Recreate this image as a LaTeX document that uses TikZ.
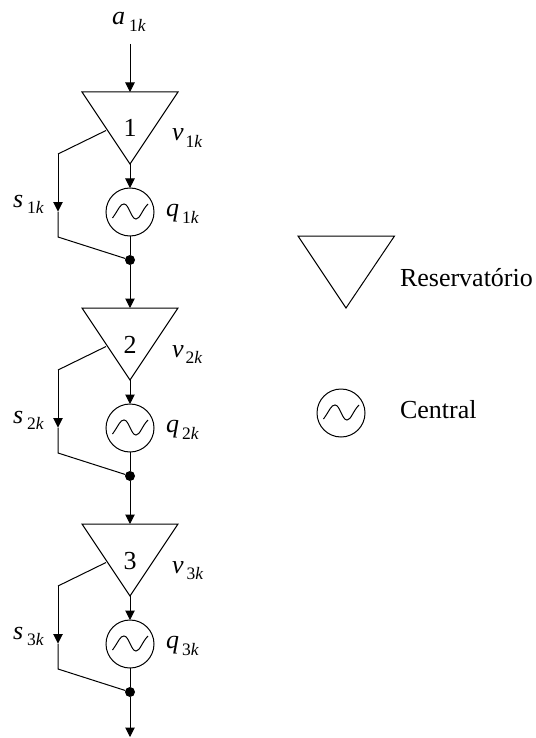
\documentclass[tikz,border=0pt]{standalone}
\usepackage{fontspec}
\setmainfont{Liberation Serif}
\usetikzlibrary{arrows.meta,calc}
\tikzset{
  x=1pt,y=-1pt,
  wire/.style={line width=1pt,black},
  flow/.style={wire,-{Triangle[length=9.5pt,width=9.5pt]}},
  gencircle/.style={circle,draw,line width=1pt,minimum size=48pt,inner sep=0pt,outer sep=0pt},
  joint/.style={circle,fill=black,minimum size=10pt,inner sep=0pt,outer sep=0pt},
  lbl/.style={anchor=base west,inner sep=0pt,outer sep=0pt,font=\fontsize{26}{26}\selectfont},
  num/.style={anchor=base,inner sep=0pt,outer sep=0pt,font=\fontsize{26}{26}\selectfont},
}
\newcommand{\symb}[3]{\textit{#1}\hspace{#3}\raisebox{-6.5pt}{\fontsize{17.5}{17.5}\selectfont #2\textit{k}}}
\newcommand{\wave}[1]{\draw[line width=1pt] ($(#1)+(-17.5,6)$) .. controls ($(#1)+(-11,-3)$) and ($(#1)+(-10,-8)$) .. ($(#1)+(-6,-8)$) .. controls ($(#1)+(-1,-8)$) and ($(#1)+(1,7)$) .. ($(#1)+(6,7)$) .. controls ($(#1)+(10,7)$) and ($(#1)+(12,-2)$) .. ($(#1)+(18,-8)$);}
\begin{document}
\begin{tikzpicture}
\useasboundingbox (0,0) rectangle (535,738);
\node[lbl] (a1) at (112,25) {\symb{a}{1}{4pt}};
\coordinate (in) at (130,44);
\foreach \i/\y/\ys in {1/0/2pt,2/216/2pt,3/432/3pt}{
  \coordinate (top\i) at (130,92+\y);
  \coordinate (left\i) at (82,92+\y);
  \coordinate (right\i) at (178,92+\y);
  \coordinate (apex\i) at (130,164+\y);
  \draw[wire,line join=miter] (left\i) -- (right\i) -- (apex\i) -- cycle;
  \node[num] (n\i) at (130,137+\y) {\i};
  \node[gencircle] (g\i) at (130,212+\y) {};
  \wave{g\i}
  \node[joint] (d\i) at (130,260+\y) {};
  \coordinate (sa\i) at (106,130.5+\y);
  \coordinate (sb\i) at (58,154+\y);
  \coordinate (sm\i) at (58,211.5+\y);
  \coordinate (sc\i) at (58,237+\y);
  \draw[wire] (sa\i) -- (sb\i);
  \draw[flow] (sb\i) -- (sm\i);
  \draw[wire] (sm\i) -- (sc\i) -- (d\i);
  \draw[flow] (apex\i) -- (g\i);
  \draw[wire] (g\i) -- (d\i);
  \node[lbl] (v\i) at (172,141+\y) {\symb{v}{\i}{\ys}};
  \node[lbl] (s\i) at (13,207+\y) {\symb{s}{\i}{4pt}};
  \node[lbl] (q\i) at (166,216.5+\y) {\symb{q}{\i}{3pt}};
}
\draw[flow] (in) -- (top1);
\draw[flow] (d1) -- (top2);
\draw[flow] (d2) -- (top3);
\coordinate (out) at (130,737);
\draw[flow] (d3) -- (out);
\coordinate (lt) at (298,236);
\coordinate (rt) at (394.5,236);
\coordinate (ap) at (346,308);
\draw[wire,line join=miter] (lt) -- (rt) -- (ap) -- cycle;
\node[gencircle] (lg) at (341,413) {};
\wave{lg}
\node[lbl] (rt1) at (400,286) {Reservatório};
\node[lbl] (ce1) at (400,418) {Central};
\end{tikzpicture}
\end{document}
